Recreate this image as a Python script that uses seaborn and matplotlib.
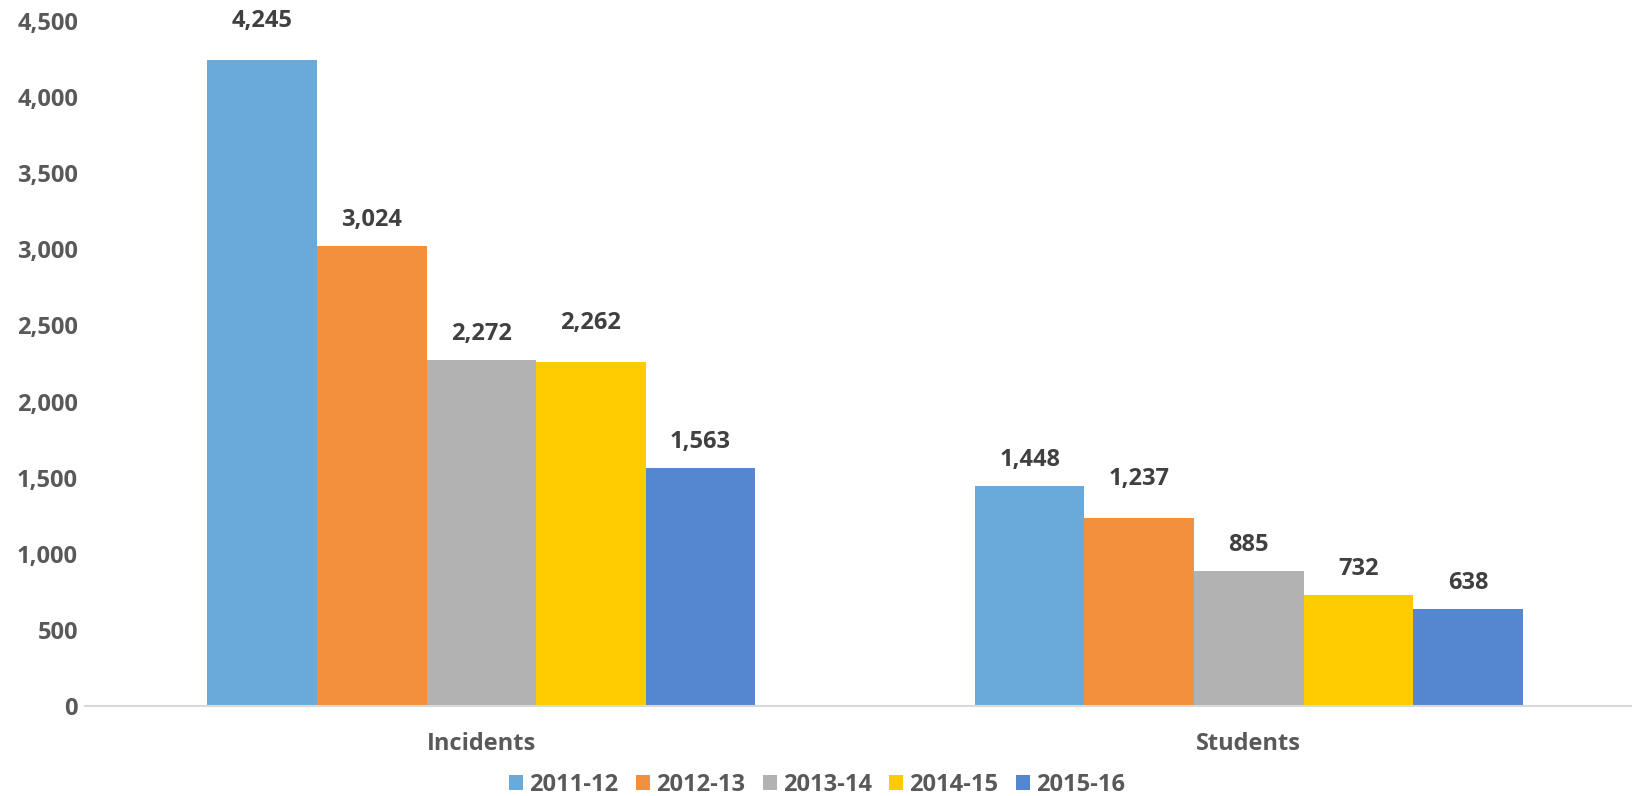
import matplotlib
matplotlib.use("Agg")
import matplotlib.pyplot as plt
import seaborn as sns
import pandas as pd
from matplotlib.patches import Patch

categories = ["Incidents", "Students"]
years = ["2011-12", "2012-13", "2013-14", "2014-15", "2015-16"]
incidents = [4245, 3024, 2272, 2262, 1563]
students = [1448, 1237, 885, 732, 638]
colors = ["#6AAADB", "#F2903E", "#B2B2B2", "#FECB00", "#5487CF"]
yticks = [0, 500, 1000, 1500, 2000, 2500, 3000, 3500, 4000, 4500]

# label offsets (points) above each bar, per year, for [Incidents, Students]
label_pad = [[19.5, 10], [10, 19.5], [10, 10], [19.5, 10], [10, 10]]

rows = []
for y, v in zip(years, incidents):
    rows.append({"cat": "Incidents", "year": y, "value": v})
for y, v in zip(years, students):
    rows.append({"cat": "Students", "year": y, "value": v})
df = pd.DataFrame(rows)

sns.set_theme(style="white")
plt.rcParams["font.family"] = ["Open Sans", "DejaVu Sans"]
plt.rcParams["font.weight"] = "bold"

FS = 17

fig = plt.figure(figsize=(16.34, 7.96), dpi=100)
ax = fig.add_axes([0.052, 0.1131, 0.946, 0.8605])

sns.barplot(data=df, x="cat", y="value", hue="year", order=categories,
            hue_order=years, palette=colors, width=0.714, gap=0,
            saturation=1, legend=False, ax=ax, linewidth=0, errorbar=None)

for cont, pads in zip(ax.containers, label_pad):
    for bar, pad in zip(cont, pads):
        ax.annotate(f"{int(bar.get_height()):,}",
                    (bar.get_x() + bar.get_width() / 2, bar.get_height()),
                    xytext=(0, pad), textcoords="offset points",
                    ha="center", va="bottom", fontsize=FS,
                    fontweight="bold", color="#404040")

ax.set_ylim(0, 4500)
ax.set_xlim(-0.5165, 1.4976)
ax.set_yticks(yticks)
ax.set_yticklabels([f"{t:,}" for t in yticks], fontsize=FS,
                   fontweight="bold", color="#595959")
ax.tick_params(axis="x", labelsize=FS, colors="#595959", pad=19, length=0)
ax.tick_params(axis="y", length=0, pad=5)
for lbl in ax.get_xticklabels():
    lbl.set_fontweight("bold")
ax.set_xlabel("")
ax.set_ylabel("")
for s in ["top", "right", "left"]:
    ax.spines[s].set_visible(False)
ax.spines["bottom"].set_color("#D9D9D9")
ax.spines["bottom"].set_linewidth(1.5)

handles = [Patch(facecolor=c, edgecolor="none") for c in colors]
leg = fig.legend(handles, years, loc="lower center", ncol=5, frameon=False,
                 bbox_to_anchor=(0.5, -0.028), fontsize=FS, handlelength=0.6,
                 handleheight=0.6, handletextpad=0.25, columnspacing=0.75)
for t in leg.get_texts():
    t.set_color("#595959")
    t.set_fontweight("bold")

fig.savefig("out.png", dpi=100)
